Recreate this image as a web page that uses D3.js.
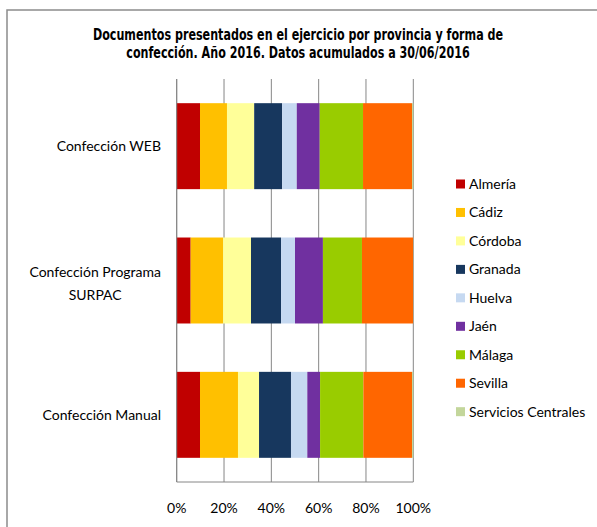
<!DOCTYPE html>
<html>
<head>
<meta charset="utf-8">
<script src="https://cdn.jsdelivr.net/npm/d3@7"></script>
<style>
  body { margin: 0; background: #fff; }
  text { font-family: Lato, "Open Sans", sans-serif; fill: #000; }
  .title { font-family: "Liberation Sans Narrow", "DejaVu Sans Condensed", sans-serif; font-stretch: condensed; font-weight: bold; font-size: 15px; }
</style>
</head>
<body>
<script>
var provinces = ['Almería', 'Cádiz', 'Córdoba', 'Granada', 'Huelva', 'Jaén', 'Málaga', 'Sevilla', 'Servicios Centrales'];
var colors = ['#C00000', '#FFC000', '#FFFF99', '#17375E', '#C6D9F1', '#7030A0', '#99CC00', '#FF6600', '#C3D69B'];
var categories = ['Confección WEB', 'Confección Programa SURPAC', 'Confección Manual'];

// share of documents (%) per province, one array per form of confection
var webValues = [9.85, 11.4, 11.5, 11.8, 6.2, 9.7, 18.3, 20.7, 0.55];
var surpacValues = [5.9, 13.7, 11.8, 12.7, 5.9, 11.8, 16.5, 21.6, 0.1];
var manualValues = [9.85, 16.05, 8.9, 13.5, 6.9, 5.4, 18.3, 20.55, 0.55];

var tickValues = [0, 0.2, 0.4, 0.6, 0.8, 1];

var rows = [webValues, surpacValues, manualValues].map(function (vals, i) {
  var r = { cat: categories[i] };
  provinces.forEach(function (p, j) { r[p] = vals[j]; });
  return r;
});

var series = d3.stack().keys(provinces).offset(d3.stackOffsetExpand)(rows);

var svg = d3.select("body").append("svg").attr("width", 597).attr("height", 527);

// outer frame
svg.append("rect")
  .attr("x", 7).attr("y", 10).attr("width", 600).attr("height", 530)
  .attr("fill", "none").attr("stroke", "#8c8c8c").attr("stroke-width", 1.5);

// title, squeezed horizontally to mimic a narrow bold face
var titleG = svg.append("g").attr("transform", "translate(298,0) scale(0.826,1)");
titleG.append("text").attr("class", "title")
  .attr("x", 0).attr("y", 40).attr("text-anchor", "middle")
  .text("Documentos presentados en el ejercicio por provincia y forma de");
titleG.append("text").attr("class", "title")
  .attr("x", 0).attr("y", 58).attr("text-anchor", "middle")
  .text("confección. Año 2016. Datos acumulados a 30/06/2016");

var x = d3.scaleLinear().domain([0, 1]).range([176.7, 413.3]);
var y = d3.scaleBand().domain(categories).range([79, 482]).paddingInner(0.36).paddingOuter(0.18);

// gridlines
svg.selectAll("line.grid")
  .data(tickValues)
  .enter().append("line")
  .attr("class", "grid")
  .attr("x1", d => x(d)).attr("x2", d => x(d))
  .attr("y1", 79).attr("y2", 482)
  .attr("stroke", "#868686").attr("stroke-width", 1);

svg.append("line")
  .attr("x1", x(0)).attr("x2", x(1)).attr("y1", 482).attr("y2", 482)
  .attr("stroke", "#868686");

svg.selectAll("g.series")
  .data(series)
  .enter().append("g")
  .attr("class", "series")
  .attr("fill", (d, i) => colors[i])
  .selectAll("rect")
  .data(d => d)
  .enter().append("rect")
  .attr("x", d => x(d[0]))
  .attr("width", d => x(d[1]) - x(d[0]))
  .attr("y", d => y(d.data.cat))
  .attr("height", y.bandwidth());

svg.append("line")
  .attr("x1", x(0)).attr("x2", x(0)).attr("y1", 79).attr("y2", 482)
  .attr("stroke", "#868686");

// x tick labels
svg.selectAll("text.tick")
  .data(tickValues)
  .enter().append("text")
  .attr("class", "tick")
  .attr("x", d => x(d)).attr("y", 513)
  .attr("text-anchor", "middle")
  .attr("font-size", "14px")
  .text(d => d3.format(".0%")(d));

// category labels
var yc = d => y(d) + y.bandwidth() / 2;
svg.append("text").attr("x", 161).attr("y", yc(categories[0]) + 5)
  .attr("text-anchor", "end").attr("font-size", "14px").text("Confección WEB");
var line1 = svg.append("text").attr("x", 161).attr("y", yc(categories[1]) - 4)
  .attr("text-anchor", "end").attr("font-size", "14px").text("Confección Programa");
var w1 = line1.node().getBBox().width;
svg.append("text").attr("x", 161 - w1 / 2).attr("y", yc(categories[1]) + 19)
  .attr("text-anchor", "middle").attr("font-size", "14px").text("SURPAC");
svg.append("text").attr("x", 161).attr("y", yc(categories[2]) + 5)
  .attr("text-anchor", "end").attr("font-size", "14px").text("Confección Manual");

// legend
var legend = svg.selectAll("g.legend")
  .data(provinces)
  .enter().append("g")
  .attr("class", "legend")
  .attr("transform", (d, i) => "translate(456," + (184 + i * 28.46) + ")");
legend.append("rect")
  .attr("x", 0).attr("y", -4.5).attr("width", 9).attr("height", 9)
  .attr("fill", (d, i) => colors[i]);
legend.append("text")
  .attr("x", 13).attr("y", 5)
  .attr("font-size", "14px")
  .text(d => d);
</script>
</body>
</html>
